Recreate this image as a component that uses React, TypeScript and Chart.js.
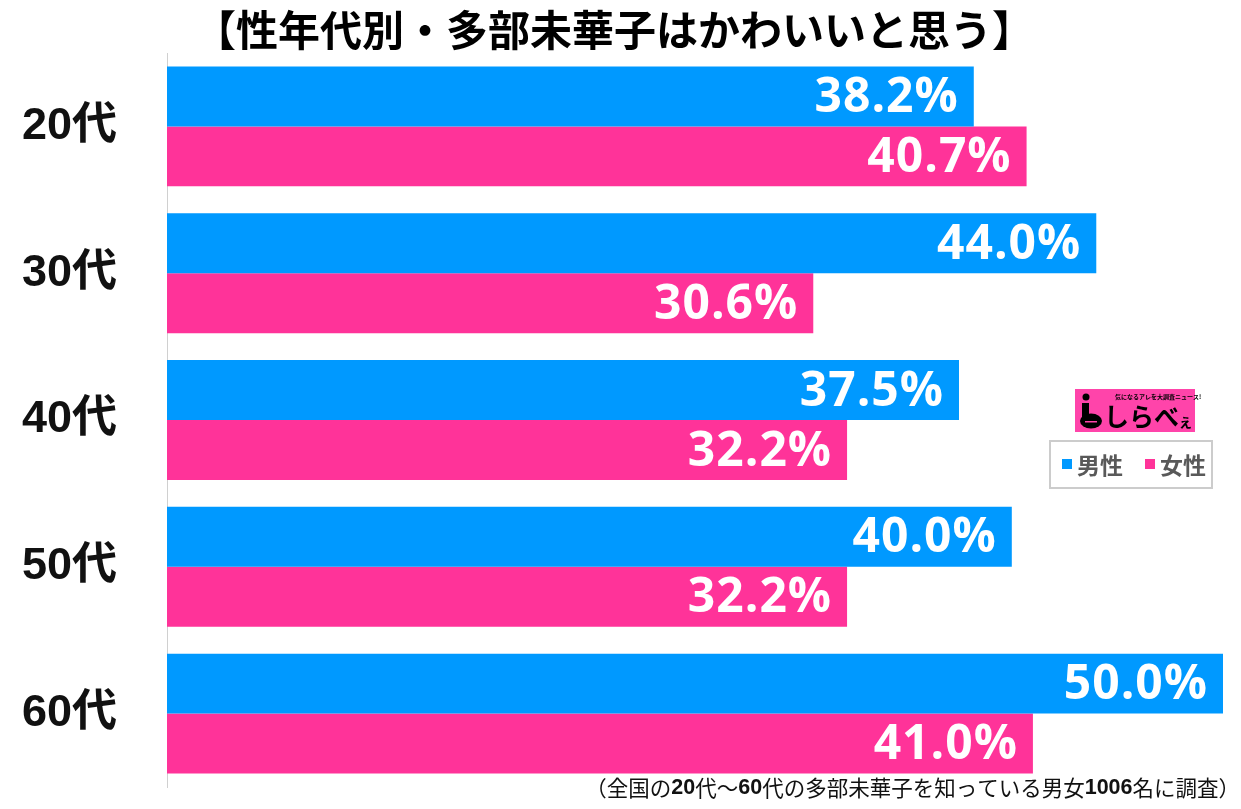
import React, { useEffect, useRef } from 'react';
import { Chart, registerables } from 'chart.js';

Chart.register(...registerables);

const categories = ['20代', '30代', '40代', '50代', '60代'];
const maleValues = [38.2, 44.0, 37.5, 40.0, 50.0];
const femaleValues = [40.7, 30.6, 32.2, 32.2, 41.0];
const seriesNames = ['男性', '女性'];
const seriesColors = ['#0099ff', '#ff3399'];
const titleText = '【性年代別・多部未華子はかわいいと思う】';
const footnoteParts: [string, boolean][] = [
  ['（全国の', false],
  ['20', true],
  ['代〜', false],
  ['60', true],
  ['代の多部未華子を知っている男女', false],
  ['1006', true],
  ['名に調査）', false],
];
const xMax = 50;

const CJK = "'Noto Sans CJK JP'";

const decorPlugin = {
  id: 'decor',
  afterDatasetsDraw(chart: any) {
    const ctx = chart.ctx;
    ctx.save();
    ctx.fillStyle = '#ffffff';
    ctx.font = "bold 48px 'Open Sans'";
    try { ctx.letterSpacing = '1px'; } catch (e) {}
    ctx.textAlign = 'right';
    ctx.textBaseline = 'middle';
    chart.data.datasets.forEach((ds: any, i: number) => {
      const meta = chart.getDatasetMeta(i);
      meta.data.forEach((el: any, j: number) => {
        const v = ds.data[j] as number;
        ctx.fillText(v.toFixed(1) + '%', el.x - 15, el.y + 2);
      });
    });
    ctx.restore();
  },
  afterDraw(chart: any) {
    const ctx = chart.ctx;
    ctx.save();
    // Title
    ctx.fillStyle = '#000000';
    ctx.font = `bold 42px ${CJK}`;
    ctx.textAlign = 'center';
    ctx.textBaseline = 'middle';
    ctx.fillText(titleText, 614, 30);

    // Logo
    ctx.fillStyle = '#ff44aa';
    ctx.fillRect(1075, 389, 120, 43);
    ctx.fillStyle = '#000000';
    ctx.beginPath();
    ctx.arc(1086, 397, 3.5, 0, Math.PI * 2);
    ctx.fill();
    ctx.fillRect(1082, 403, 7, 16);
    ctx.beginPath();
    ctx.ellipse(1091, 421, 11, 7.5, 0, 0, Math.PI * 2);
    ctx.fill();
    ctx.fillStyle = '#ff44aa';
    ctx.fillRect(1085, 421, 12, 1.5);
    ctx.fillStyle = '#000000';
    ctx.font = `bold 6px ${CJK}`;
    ctx.textAlign = 'left';
    ctx.fillText('気になるアレを大調査ニュース!', 1115, 397);
    ctx.font = `bold 25px ${CJK}`;
    ctx.fillText('しらべ', 1104, 416);
    ctx.font = `bold 15px ${CJK}`;
    ctx.fillText('ぇ', 1178, 421);

    // Legend
    ctx.strokeStyle = '#cccccc';
    ctx.lineWidth = 2;
    ctx.strokeRect(1050, 441, 162, 47);
    ctx.font = `bold 23px ${CJK}`;
    ctx.textBaseline = 'middle';
    ctx.textAlign = 'left';
    const legendX = [1062, 1145];
    seriesNames.forEach((name, i) => {
      ctx.fillStyle = seriesColors[i];
      ctx.fillRect(legendX[i], 459, 10, 10);
      ctx.fillStyle = '#595959';
      ctx.fillText(name, legendX[i] + 15, 465);
    });

    // Footnote
    ctx.fillStyle = '#111111';
    const fontFor = (bold: boolean) =>
      bold ? "bold 21.5px 'Liberation Sans'" : `400 21.5px ${CJK}`;
    let total = 0;
    footnoteParts.forEach(([t, b]) => {
      ctx.font = fontFor(b);
      total += ctx.measureText(t).width;
    });
    let x = 1240 - total;
    footnoteParts.forEach(([t, b]) => {
      ctx.font = fontFor(b);
      ctx.fillText(t, x, 788);
      x += ctx.measureText(t).width;
    });
    ctx.restore();
  },
};

export default function App() {
  const ref = useRef<HTMLCanvasElement | null>(null);
  useEffect(() => {
    document.body.style.margin = '0';
    document.body.style.overflow = 'hidden';
    const canvas = ref.current;
    if (!canvas) return;
    const chart = new Chart(canvas, {
      type: 'bar',
      data: {
        labels: categories,
        datasets: [
          {
            label: seriesNames[0],
            data: maleValues,
            backgroundColor: seriesColors[0],
            borderWidth: 0,
            barPercentage: 1,
            categoryPercentage: 0.817,
          },
          {
            label: seriesNames[1],
            data: femaleValues,
            backgroundColor: seriesColors[1],
            borderWidth: 0,
            barPercentage: 1,
            categoryPercentage: 0.817,
          },
        ],
      },
      options: {
        indexAxis: 'y',
        animation: false,
        responsive: false,
        maintainAspectRatio: false,
        devicePixelRatio: 1,
        layout: { padding: { left: 22, right: 18, top: 53, bottom: 22 } },
        plugins: {
          legend: { display: false },
          title: { display: false },
          tooltip: { enabled: false },
        },
        scales: {
          x: {
            display: false,
            min: 0,
            max: xMax,
          },
          y: {
            afterFit: (axis: any) => {
              axis.width = 145;
              axis.paddingTop = 0;
              axis.paddingBottom = 0;
            },
            grid: { display: false, drawTicks: false },
            border: { display: true, color: '#d0d0d0', width: 1 },
            ticks: {
              crossAlign: 'far',
              color: '#111111',
              font: { family: "'Liberation Sans', 'Noto Sans CJK JP'", size: 45, weight: 'bold' },
            },
          },
        },
      },
      plugins: [decorPlugin],
    } as any);
    return () => chart.destroy();
  }, []);
  return (
    <div style={{ width: '1241px', height: '809px', position: 'relative' }}>
      <canvas ref={ref} width={1241} height={809} style={{ display: 'block' }} />
    </div>
  );
}
